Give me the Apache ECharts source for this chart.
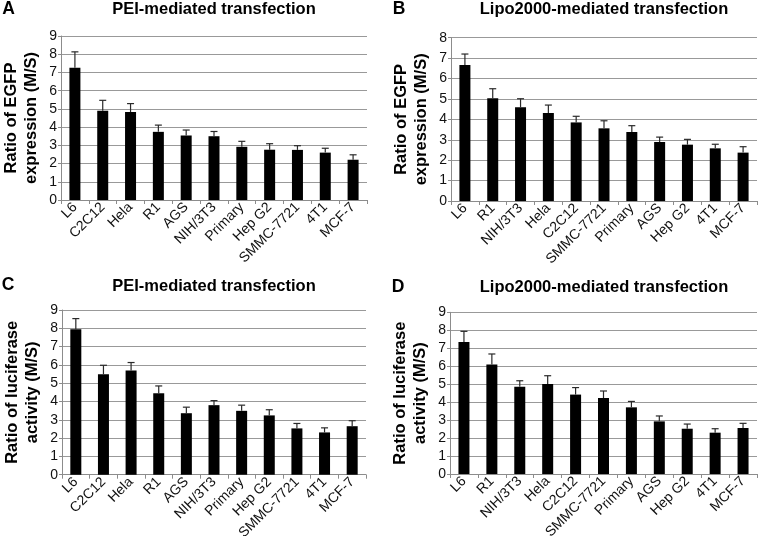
<!DOCTYPE html>
<html>
<head>
<meta charset="utf-8">
<script src="https://cdn.jsdelivr.net/npm/echarts@6/dist/echarts.min.js"></script>
<style>
html,body{margin:0;padding:0;background:#fff;}
#chart{width:758px;height:536px;}
</style>
</head>
<body>
<div id="chart"></div>
<script>
// ---- Data ----
const catsA = ['L6','C2C12','Hela','R1','AGS','NIH/3T3','Primary','Hep G2','SMMC-7721','4T1','MCF-7'];
const valsA = [7.26, 4.9, 4.83, 3.74, 3.54, 3.5, 2.92, 2.76, 2.75, 2.6, 2.21];
const errA  = [0.87, 0.57, 0.46, 0.37, 0.3, 0.26, 0.3, 0.33, 0.23, 0.24, 0.27];

const catsB = ['L6','R1','NIH/3T3','Hela','C2C12','SMMC-7721','Primary','AGS','Hep G2','4T1','MCF-7'];
const valsB = [6.66, 5.03, 4.59, 4.31, 3.85, 3.56, 3.38, 2.89, 2.76, 2.58, 2.37];
const errB  = [0.54, 0.47, 0.42, 0.39, 0.3, 0.37, 0.31, 0.24, 0.26, 0.2, 0.29];

const catsC = ['L6','C2C12','Hela','R1','AGS','NIH/3T3','Primary','Hep G2','SMMC-7721','4T1','MCF-7'];
const valsC = [7.95, 5.49, 5.69, 4.45, 3.36, 3.8, 3.49, 3.24, 2.53, 2.31, 2.65];
const errC  = [0.58, 0.49, 0.44, 0.4, 0.33, 0.25, 0.31, 0.31, 0.27, 0.25, 0.3];

const catsD = ['L6','R1','NIH/3T3','Hela','C2C12','SMMC-7721','Primary','AGS','Hep G2','4T1','MCF-7'];
const valsD = [7.35, 6.09, 4.86, 5.01, 4.42, 4.23, 3.71, 2.93, 2.52, 2.3, 2.56];
const errD  = [0.59, 0.59, 0.33, 0.46, 0.39, 0.39, 0.33, 0.3, 0.26, 0.22, 0.26];

const yMaxA = 9, yMaxB = 8, yMaxC = 9, yMaxD = 9;
const titlePEI = 'PEI-mediated transfection';
const titleLipo = 'Lipo2000-mediated transfection';
const yNameEGFP = 'Ratio of EGFP\nexpression (M/S)';
const yNameLuc = 'Ratio of luciferase\nactivity (M/S)';

// ---- Chart ----
const FONT = '"Liberation Sans", Arial, sans-serif';
const chart = echarts.init(document.getElementById('chart'), null, {renderer: 'canvas'});

const grids = [
  {left: 61, top: 36, width: 306, height: 164, outerBoundsMode: 'none', containLabel: false},
  {left: 451, top: 37.7, width: 306, height: 163.3, outerBoundsMode: 'none', containLabel: false},
  {left: 62, top: 310, width: 304, height: 164.7, outerBoundsMode: 'none', containLabel: false},
  {left: 450, top: 312.3, width: 307, height: 161.7, outerBoundsMode: 'none', containLabel: false}
];
const panels = [
  {cats: catsA, vals: valsA, err: errA, max: yMaxA, yName: yNameEGFP},
  {cats: catsB, vals: valsB, err: errB, max: yMaxB, yName: yNameEGFP},
  {cats: catsC, vals: valsC, err: errC, max: yMaxC, yName: yNameLuc},
  {cats: catsD, vals: valsD, err: errD, max: yMaxD, yName: yNameLuc}
];

const xAxes = [], yAxes = [], series = [];
panels.forEach((p, i) => {
  xAxes.push({
    type: 'category', gridIndex: i, data: p.cats, boundaryGap: true,
    axisLine: {show: true, lineStyle: {color: '#8c8c8c', width: 1}},
    axisTick: {show: true, length: 4, alignWithLabel: false, lineStyle: {color: '#8c8c8c'}},
    axisLabel: {interval: 0, rotate: 45, fontSize: 14, margin: 5, color: '#111', fontFamily: FONT},
    splitLine: {show: false}
  });
  yAxes.push({
    type: 'value', gridIndex: i, min: 0, max: p.max, interval: 1,
    name: p.yName, nameLocation: 'middle', nameRotate: 90, nameGap: 20,
    nameTextStyle: {fontSize: 16.5, fontWeight: 'bold', color: '#000', lineHeight: 20, fontFamily: FONT},
    axisLine: {show: true, lineStyle: {color: '#8c8c8c', width: 1}},
    axisTick: {show: true, length: 3, lineStyle: {color: '#8c8c8c'}},
    axisLabel: {fontSize: 14, margin: 4, color: '#111', fontFamily: FONT},
    splitLine: {show: true, lineStyle: {color: '#999', width: 1}}
  });
  series.push({
    type: 'bar', xAxisIndex: i, yAxisIndex: i, data: p.vals,
    barWidth: 11, itemStyle: {color: '#000'}, silent: true, animation: false
  });
  series.push({
    type: 'custom', xAxisIndex: i, yAxisIndex: i, animation: false, silent: true,
    data: p.vals.map((v, k) => [k, v, v + p.err[k]]),
    encode: {x: 0, y: [1, 2]},
    renderItem: function (params, api) {
      const x = api.value(0);
      const lo = api.coord([x, api.value(1)]);
      const hi = api.coord([x, api.value(2)]);
      const hw = 3.5;
      return {
        type: 'group',
        children: [
          {type: 'line', shape: {x1: lo[0], y1: lo[1], x2: hi[0], y2: hi[1]}, style: {stroke: '#2a2a2a', lineWidth: 1.2}},
          {type: 'line', shape: {x1: hi[0] - hw, y1: hi[1], x2: hi[0] + hw, y2: hi[1]}, style: {stroke: '#2a2a2a', lineWidth: 1.2}}
        ]
      };
    },
    z: 5
  });
});

function txt(x, y, s, size) {
  return {type: 'text', x: x, y: y, style: {text: s, fontSize: size, fontWeight: 'bold', fill: '#000', fontFamily: FONT, align: 'center', verticalAlign: 'middle'}};
}

chart.setOption({
  animation: false,
  backgroundColor: '#fff',
  grid: grids,
  xAxis: xAxes,
  yAxis: yAxes,
  series: series,
  graphic: [
    txt(8.5, 9.5, 'A', 17.5),
    txt(399, 9.5, 'B', 17.5),
    txt(8, 285, 'C', 17.5),
    txt(398, 287, 'D', 17.5),
    txt(214, 9.5, titlePEI, 16.5),
    txt(604, 9.5, titleLipo, 16.5),
    txt(214, 286, titlePEI, 16.5),
    txt(604, 287, titleLipo, 16.5)
  ]
});
</script>
</body>
</html>
